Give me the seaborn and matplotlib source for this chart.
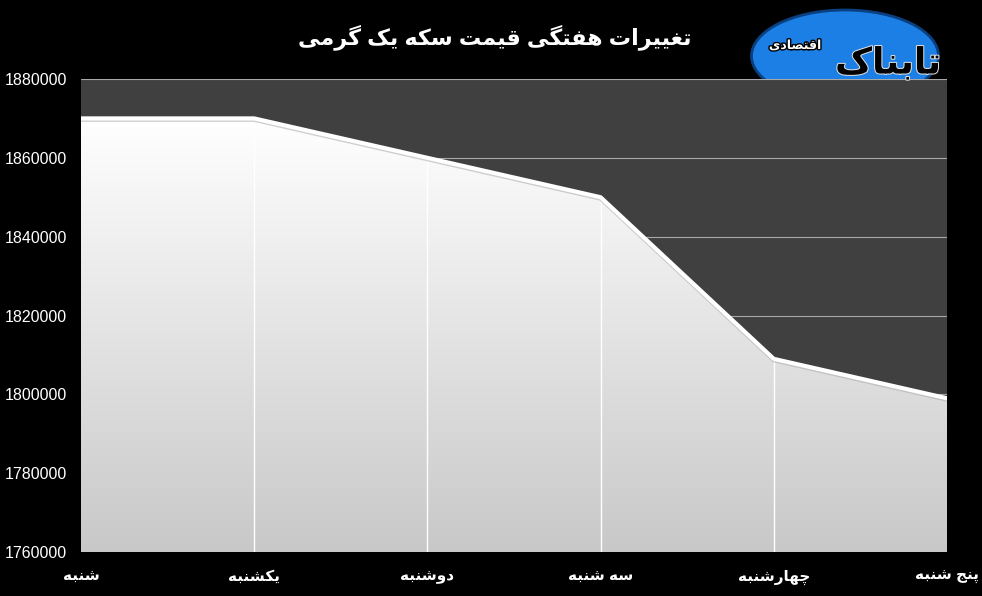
import numpy as np
import pandas as pd
import matplotlib
matplotlib.use('Agg')
import matplotlib.pyplot as plt
import matplotlib.patheffects as pe
from matplotlib.colors import LinearSegmentedColormap
from matplotlib.patches import Ellipse
import seaborn as sns

# --- DATA ---
days = ['شنبه', 'یکشنبه', 'دوشنبه', 'سه شنبه', 'چهارشنبه', 'پنج شنبه']
prices = [1870000, 1870000, 1860000, 1850000, 1809000, 1799000]
y_ticks = [1760000, 1780000, 1800000, 1820000, 1840000, 1860000, 1880000]
title = 'تغییرات هفتگی قیمت سکه یک گرمی'

# matplotlib has no arabic shaping, so pick presentation forms by hand
FORMS = {
    'ا': ('\uFE8D', '\uFE8E', None, None),
    'ب': ('\uFE8F', '\uFE90', '\uFE91', '\uFE92'),
    'پ': ('\uFB56', '\uFB57', '\uFB58', '\uFB59'),
    'ت': ('\uFE95', '\uFE96', '\uFE97', '\uFE98'),
    'ج': ('\uFE9D', '\uFE9E', '\uFE9F', '\uFEA0'),
    'چ': ('\uFB7A', '\uFB7B', '\uFB7C', '\uFB7D'),
    'د': ('\uFEA9', '\uFEAA', None, None),
    'ر': ('\uFEAD', '\uFEAE', None, None),
    'س': ('\uFEB1', '\uFEB2', '\uFEB3', '\uFEB4'),
    'ش': ('\uFEB5', '\uFEB6', '\uFEB7', '\uFEB8'),
    'ص': ('\uFEB9', '\uFEBA', '\uFEBB', '\uFEBC'),
    'غ': ('\uFECD', '\uFECE', '\uFECF', '\uFED0'),
    'ف': ('\uFED1', '\uFED2', '\uFED3', '\uFED4'),
    'ق': ('\uFED5', '\uFED6', '\uFED7', '\uFED8'),
    'ک': ('\uFB8E', '\uFB8F', '\uFB90', '\uFB91'),
    'گ': ('\uFB92', '\uFB93', '\uFB94', '\uFB95'),
    'م': ('\uFEE1', '\uFEE2', '\uFEE3', '\uFEE4'),
    'ن': ('\uFEE5', '\uFEE6', '\uFEE7', '\uFEE8'),
    'و': ('\uFEED', '\uFEEE', None, None),
    'ه': ('\uFEE9', '\uFEEA', '\uFEEB', '\uFEEC'),
    'ی': ('\uFBFC', '\uFBFD', '\uFBFE', '\uFBFF'),
}


def shape(s):
    out = []
    for i, c in enumerate(s):
        if c not in FORMS:
            out.append(c)
            continue
        f = FORMS[c]
        prev = s[i - 1] if i > 0 else ''
        nxt = s[i + 1] if i + 1 < len(s) else ''
        jp = prev in FORMS and FORMS[prev][2] is not None
        jn = f[2] is not None and nxt in FORMS
        if jp and jn:
            out.append(f[3])
        elif jp:
            out.append(f[1])
        elif jn:
            out.append(f[2])
        else:
            out.append(f[0])
    return ''.join(reversed(out))


sns.set_style('dark')
plt.rcParams['font.family'] = ['Liberation Sans', 'DejaVu Sans']

df = pd.DataFrame({'x': np.arange(len(days)), 'price': prices})

fig = plt.figure(figsize=(9.82, 5.96), dpi=100, facecolor='black')
ax = fig.add_axes([81 / 982, 1 - 552 / 596, (947 - 81) / 982, (552 - 79) / 596])
ax.set_facecolor('#404040')

ax.set_xlim(0, len(days) - 1)
ax.set_ylim(y_ticks[0], y_ticks[-1])

# horizontal grid (only visible over the dark part)
for t in y_ticks:
    ax.axhline(t, color='#a8a8a8', lw=0.8, zorder=1)

# gradient area
poly = ax.fill_between(df['x'], df['price'], y_ticks[0], color='none', zorder=2)
cmap = LinearSegmentedColormap.from_list('g', ['#c8c8c8', '#ffffff'])
grad = np.linspace(0, 1, 256).reshape(-1, 1)
im = ax.imshow(grad, cmap=cmap, aspect='auto', origin='lower',
               extent=[0, len(days) - 1, y_ticks[0], max(prices)], zorder=2)
im.set_clip_path(poly.get_paths()[0], transform=ax.transData)

# vertical white lines under the curve
ax.vlines(df['x'][1:-1], y_ticks[0], df['price'][1:-1], color='white', lw=1, zorder=3)

sns.lineplot(data=df, x='x', y='price', ax=ax, color='white', lw=3, zorder=4,
             path_effects=[pe.SimpleLineShadow(offset=(0, -1), shadow_color='#b0b0b0', alpha=0.6),
                           pe.Normal()])

ax.set_xticks(df['x'])
ax.set_xticklabels([shape(d) for d in days], color='white', fontsize=11, fontweight='bold')
ax.set_yticks(y_ticks)
ax.set_yticklabels([str(t) for t in y_ticks], color='white', fontsize=11.5)
ax.tick_params(length=0)
ax.tick_params(axis='y', pad=10)
ax.tick_params(axis='x', pad=13)
ax.set_xlabel('')
ax.set_ylabel('')
for s in ax.spines.values():
    s.set_visible(False)
ax.grid(False)

fig.text(495 / 982, 1 - 37 / 596, shape(title), color='white', fontsize=16,
         fontweight='bold', ha='center', va='center')

# logo
logo = Ellipse((845 / 982, 1 - 56 / 596), 187 / 982, 92 / 596, transform=fig.transFigure,
               facecolor='#1b7fe6', edgecolor='#0a3f80', lw=2, zorder=-1)
fig.add_artist(logo)
fig.text(888 / 982, 1 - 64 / 596, shape('تابناک'), color='black', fontsize=26,
         fontweight='bold', ha='center', va='center', zorder=5,
         path_effects=[pe.withStroke(linewidth=1.5, foreground='#dddddd')])
fig.text(795 / 982, 1 - 46 / 596, shape('اقتصادی'), color='white', fontsize=9,
         fontweight='bold', ha='center', va='center', zorder=6,
         path_effects=[pe.withStroke(linewidth=2, foreground='black')])

fig.savefig('out.png', dpi=100, facecolor='black')
